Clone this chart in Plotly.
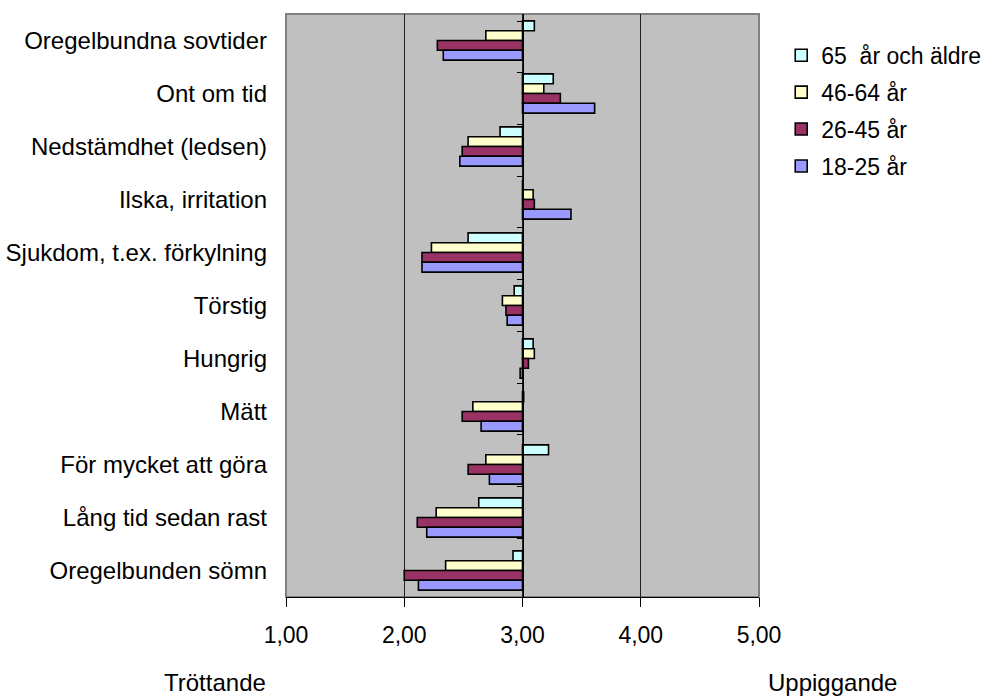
import plotly.graph_objects as go

# Categories, top to bottom
categories = [
    "Oregelbundna sovtider",
    "Ont om tid",
    "Nedstämdhet (ledsen)",
    "Ilska, irritation",
    "Sjukdom, t.ex. förkylning",
    "Törstig",
    "Hungrig",
    "Mätt",
    "För mycket att göra",
    "Lång tid sedan rast",
    "Oregelbunden sömn",
]

# Mean ratings per age group (1 = tröttande, 5 = uppiggande)
age_65_plus = [3.10, 3.26, 2.81, 3.00, 2.54, 2.93, 3.09, 3.01, 3.22, 2.63, 2.92]
age_46_64 = [2.69, 3.18, 2.54, 3.09, 2.23, 2.83, 3.10, 2.58, 2.69, 2.27, 2.35]
age_26_45 = [2.28, 3.32, 2.49, 3.10, 2.15, 2.86, 3.05, 2.49, 2.54, 2.11, 2.00]
age_18_25 = [2.33, 3.61, 2.47, 3.41, 2.15, 2.87, 2.98, 2.65, 2.72, 2.19, 2.12]

series_names = ["65  år och äldre", "46-64 år", "26-45 år", "18-25 år"]
series_values = [age_65_plus, age_46_64, age_26_45, age_18_25]
series_colors = ["#CCFFFF", "#FFFFCC", "#993366", "#9999FF"]

tick_values = [1, 2, 3, 4, 5]
tick_labels = ["1,00", "2,00", "3,00", "4,00", "5,00"]
neutral = 3.0

FONT = "Liberation Sans, Arial, sans-serif"

fig = go.Figure()

for name, vals, color in zip(series_names, series_values, series_colors):
    fig.add_trace(go.Bar(
        y=categories,
        x=[v - neutral for v in vals],
        base=neutral,
        orientation="h",
        name=name,
        legendgroup=name,
        marker=dict(color=color, line=dict(color="black", width=1.6)),
        hovertemplate="%{y}: %{customdata:.2f}<extra>" + name + "</extra>",
        customdata=vals,
    ))

# invisible helper trace to carry the crossing axis at 3,00
fig.add_trace(go.Scatter(
    y=categories, x=[neutral] * len(categories), yaxis="y2",
    mode="markers", marker=dict(opacity=0), showlegend=False, hoverinfo="skip",
))

fig.update_layout(
    width=989,
    height=697,
    margin=dict(l=286, r=230, t=14, b=100, autoexpand=False),
    paper_bgcolor="white",
    plot_bgcolor="#C0C0C0",
    barmode="group",
    bargap=0.26,
    bargroupgap=0,
    font=dict(family=FONT, size=22, color="black"),
    xaxis=dict(
        range=[1, 5],
        tickvals=tick_values,
        ticktext=tick_labels,
        ticks="outside",
        ticklen=9,
        tickcolor="black",
        tickwidth=1,
        showline=True,
        linecolor="black",
        linewidth=1,
        showgrid=True,
        gridcolor="#202020",
        gridwidth=1,
        zeroline=False,
        ticklabelstandoff=8,
        tickfont=dict(size=23),
        automargin=False,
    ),
    yaxis=dict(
        type="category",
        categoryorder="array",
        categoryarray=categories,
        autorange="reversed",
        showgrid=False,
        ticks="",
        showline=False,
        ticklabelstandoff=18,
        tickfont=dict(size=24),
        automargin=False,
    ),
    yaxis2=dict(
        type="category",
        categoryorder="array",
        categoryarray=categories,
        autorange="reversed",
        overlaying="y",
        anchor="free",
        position=0.5,
        side="left",
        showticklabels=False,
        showgrid=False,
        ticks="outside",
        tickson="boundaries",
        ticklen=6,
        tickcolor="black",
        showline=True,
        linecolor="black",
        linewidth=1,
        automargin=False,
    ),
    legend=dict(
        x=1.047,
        y=0.966,
        xanchor="left",
        yanchor="top",
        bgcolor="rgba(0,0,0,0)",
        font=dict(size=23),
        itemwidth=30,
        tracegroupgap=4,
    ),
    shapes=[dict(
        type="rect", xref="paper", yref="paper", x0=0, x1=1, y0=0, y1=1,
        line=dict(color="#808080", width=2), layer="below",
    )],
    annotations=[
        dict(text="Tröttande", xref="paper", yref="paper", x=-0.150, y=-0.1475,
             xanchor="center", yanchor="middle", showarrow=False, font=dict(size=24)),
        dict(text="Uppiggande", xref="paper", yref="paper", x=1.156, y=-0.1475,
             xanchor="center", yanchor="middle", showarrow=False, font=dict(size=24)),
    ],
)

fig.write_html("out.html")
